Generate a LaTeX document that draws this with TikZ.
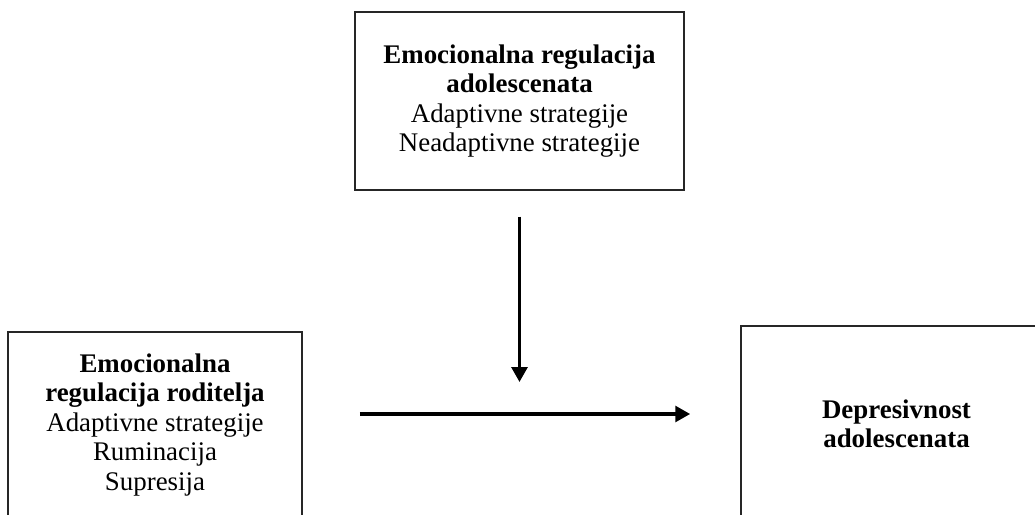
\documentclass[tikz,border=0pt]{standalone}
\usepackage{fontspec}
\setmainfont{Liberation Serif}
\usetikzlibrary{arrows.meta}
\begin{document}
\begin{tikzpicture}[scale=0.2]
\tikzstyle{box}=[draw=black!85, line width=0.8pt, align=center, inner sep=0pt, font=\fontsize{15.3}{16.8}\selectfont]
\tikzstyle{arr}=[line width=1.9pt, -{Triangle[length=8.5pt,width=9pt]}]
\clip (0,0) rectangle (103.5,-51.5);
\node [box, minimum width=187.2pt, minimum height=101.3pt] (ado) at (51.95,-10.1) {\textbf{Emocionalna regulacija}\\\textbf{adolescenata}\\Adaptivne strategije\\Neadaptivne strategije};
\node [box, minimum width=167.3pt, minimum height=105.8pt] (par) at (15.5,-42.5) {\textbf{Emocionalna}\\\textbf{regulacija roditelja}\\Adaptivne strategije\\Ruminacija\\Supresija};
\node [box, minimum width=177pt, minimum height=111.5pt] (dep) at (89.65,-42.4) {\textbf{Depresivnost}\\\textbf{adolescenata}};
\coordinate (mod) at (52,-38.2);
\draw [arr, shorten <=32.5pt, shorten >=28.5pt] (par.east |- 0,-41.4) -- (dep.west |- 0,-41.4);
\draw [arr, shorten <=14.8pt] (ado.south) -- (ado.south |- mod);
\end{tikzpicture}
\end{document}
